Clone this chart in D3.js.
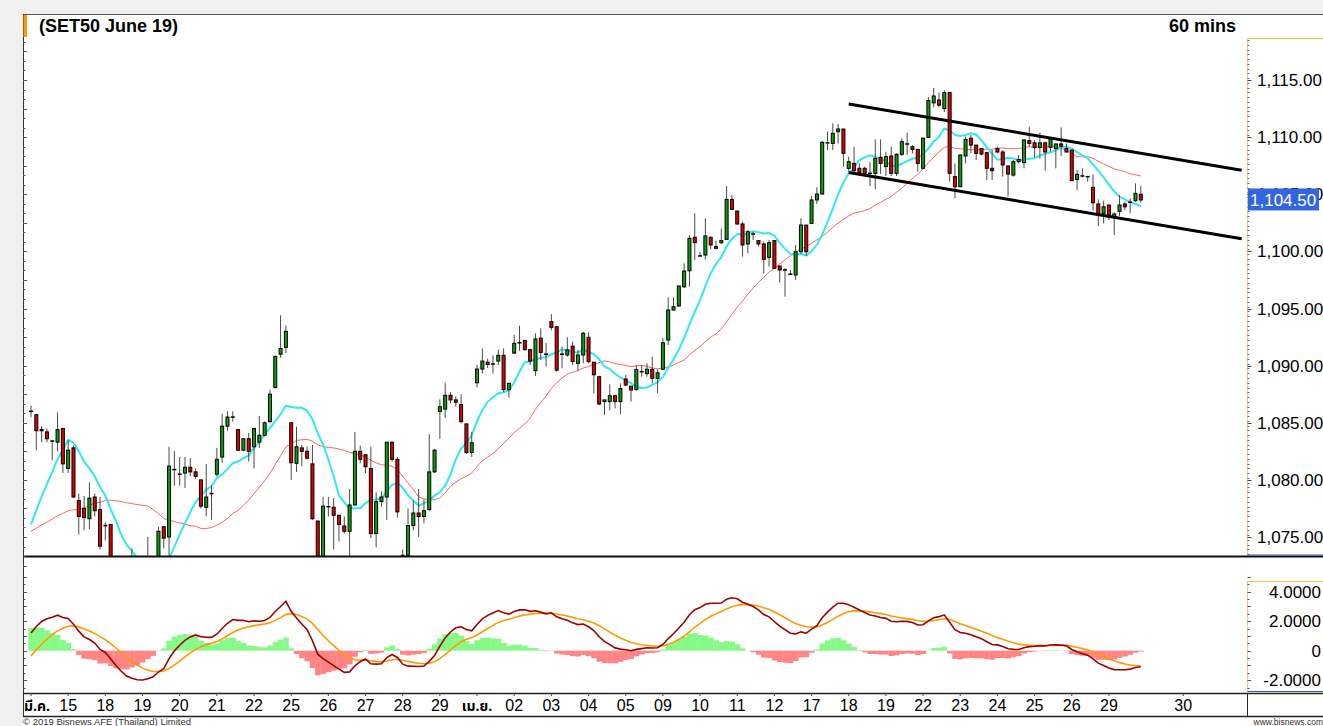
<!DOCTYPE html>
<html>
<head>
<meta charset="utf-8">
<title>SET50 June 19 - 60 mins</title>
<script src="https://cdn.jsdelivr.net/npm/d3@7"></script>
<style>
  html, body { margin: 0; padding: 0; background: #f0f0f0; }
  #chart { width: 1323px; height: 726px; }
  text { font-family: "Liberation Sans", Arial, sans-serif; }
</style>
</head>
<body>
<div id="chart"></div>
<script>
// ---- data (hourly bars, 14 Mar - 29 Apr 2019) ----
const dayLabels = ["มี.ค.", "15", "18", "19", "20", "21", "22", "25", "26", "27", "28", "29",
    "เม.ย.", "02", "03", "04", "05", "09", "10", "11", "12", "17", "18", "19", "22", "23",
    "24", "25", "26", "29", "30"];
// bar index where each day label sits
const dayLabelIndex = [0, 7, 14, 21, 28, 35, 42, 49, 56, 63, 70, 77, 84, 91, 98, 105, 112,
    119, 126, 133, 140, 147, 154, 161, 168, 175, 182, 189, 196, 203, 217];

const opens = [
    1086.0, 1085.7, 1084.4, 1084.2, 1083.4, 1083.3, 1084.5, 1081.0, 1082.8, 1078.2,
    1077.5, 1076.6, 1078.5, 1077.4, 1076.0, 1076.1, 1072.5, 1071.0, 1070.5, 1070.0,
    1071.0, 1071.0, 1071.5, 1072.5, 1073.0, 1075.9, 1075.0, 1080.9, 1080.5, 1080.6,
    1081.1, 1080.7, 1080.0, 1077.6, 1078.8, 1080.5, 1082.0, 1084.7, 1085.5, 1084.4,
    1082.6, 1083.6, 1082.9, 1083.3, 1083.9, 1085.1, 1088.1, 1091.0, 1091.6, 1085.0,
    1081.45, 1082.8, 1082.5, 1081.4, 1076.4, 1072.8, 1077.65, 1077.6, 1076.9, 1075.96,
    1075.5, 1077.8, 1082.5, 1082.2, 1081.0, 1075.3, 1078.1, 1078.5, 1083.3, 1081.8,
    1073.2, 1073.4, 1076.0, 1077.1, 1076.8, 1077.4, 1080.7, 1086.0, 1086.2, 1087.4,
    1087.0, 1086.6, 1084.9, 1082.4, 1088.5, 1089.7, 1090.3, 1090.14, 1090.4, 1090.9,
    1087.9, 1091.1, 1092.0, 1092.2, 1091.4, 1089.56, 1092.4, 1091.0, 1093.85, 1093.4,
    1091.0, 1090.93, 1091.7, 1090.2, 1090.93, 1092.48, 1090.3, 1089.03, 1086.85, 1086.85,
    1087.37, 1086.85, 1088.83, 1088.2, 1087.9, 1089.47, 1089.3, 1089.68, 1088.89, 1089.68,
    1092.24, 1094.87, 1095.22, 1096.9, 1098.3, 1101.23, 1099.6, 1099.68, 1101.23, 1100.42,
    1100.76, 1101.05, 1104.55, 1103.53, 1102.4, 1100.65, 1101.52, 1100.94, 1100.65, 1099.48,
    1100.94, 1098.72, 1098.37, 1098.0, 1097.93, 1099.97, 1102.3, 1102.45, 1104.5, 1105.02,
    1109.5, 1109.45, 1110.48, 1110.71, 1107.27, 1107.7, 1107.27, 1107.27, 1106.83, 1106.83,
    1108.23, 1107.42, 1108.35, 1106.83, 1108.5, 1109.4, 1109.16, 1108.93, 1107.27, 1109.98,
    1113.0, 1113.25, 1112.5, 1113.9, 1106.54, 1105.66, 1108.35, 1109.9, 1109.3, 1109.0,
    1108.64, 1107.27, 1109.0, 1108.7, 1107.47, 1106.68, 1107.85, 1107.77, 1109.7, 1109.5,
    1109.1, 1109.5, 1109.1, 1109.0, 1109.4, 1109.0, 1108.87, 1106.3, 1106.6, 1106.54,
    1105.6, 1104.15, 1103.33, 1104.06, 1103.0, 1103.5, 1104.15, 1104.3, 1104.44, 1105.0
];

const highs = [
    1086.5, 1085.8, 1084.7, 1084.5, 1083.5, 1085.9, 1084.5, 1083.5, 1083.0, 1078.8,
    1078.6, 1079.8, 1078.8, 1078.5, 1076.3, 1076.1, 1073.0, 1071.8, 1071.2, 1074.0,
    1072.5, 1072.8, 1075.0, 1073.2, 1075.9, 1075.9, 1082.9, 1082.5, 1082.0, 1082.0,
    1081.9, 1081.0, 1080.0, 1081.4, 1079.5, 1082.8, 1085.8, 1086.0, 1086.0, 1084.4,
    1083.6, 1084.1, 1084.5, 1085.6, 1085.1, 1087.9, 1090.9, 1094.4, 1093.5, 1085.0,
    1084.65, 1083.05, 1082.9, 1083.05, 1076.4, 1078.5, 1078.5, 1078.4, 1076.9, 1076.8,
    1079.2, 1084.2, 1083.0, 1082.2, 1082.9, 1078.9, 1079.0, 1083.3, 1083.3, 1082.0,
    1073.9, 1077.5, 1078.2, 1079.2, 1078.3, 1084.0, 1082.7, 1087.05, 1088.5, 1087.7,
    1087.3, 1087.5, 1084.9, 1084.2, 1090.05, 1091.5, 1090.6, 1090.9, 1091.4, 1091.5,
    1088.45, 1092.7, 1093.5, 1092.24, 1091.4, 1092.83, 1093.26, 1092.0, 1094.5, 1093.4,
    1091.66, 1092.48, 1092.1, 1091.37, 1092.97, 1092.92, 1090.3, 1089.03, 1087.0, 1088.36,
    1087.37, 1088.45, 1089.18, 1088.2, 1090.05, 1090.05, 1090.2, 1090.78, 1089.68, 1092.39,
    1095.98, 1095.98, 1097.0, 1098.95, 1101.43, 1103.33, 1099.97, 1102.89, 1101.35, 1100.94,
    1102.0, 1105.72, 1104.93, 1103.53, 1102.6, 1101.87, 1101.72, 1100.94, 1100.85, 1100.99,
    1100.94, 1098.72, 1098.52, 1098.37, 1100.56, 1102.89, 1102.3, 1104.85, 1105.6, 1109.69,
    1110.48, 1111.21, 1111.15, 1110.71, 1108.29, 1109.16, 1107.7, 1107.42, 1107.85, 1109.8,
    1109.8, 1108.72, 1109.16, 1108.58, 1109.9, 1110.39, 1109.3, 1108.93, 1109.98, 1113.5,
    1114.3, 1113.9, 1114.1, 1113.9, 1107.7, 1108.44, 1110.04, 1110.2, 1109.3, 1109.0,
    1108.72, 1108.87, 1109.16, 1108.87, 1107.56, 1108.0, 1108.44, 1109.8, 1110.92, 1109.75,
    1110.4, 1109.6, 1109.9, 1109.45, 1110.86, 1109.45, 1108.87, 1107.12, 1107.27, 1106.6,
    1106.74, 1104.55, 1104.44, 1104.06, 1103.4, 1104.93, 1104.35, 1104.64, 1105.95, 1105.72
];

const lows = [
    1085.5, 1082.6, 1083.3, 1083.3, 1081.7, 1082.5, 1080.6, 1080.6, 1078.4, 1075.2,
    1075.6, 1075.7, 1076.8, 1073.9, 1074.7, 1072.2, 1070.5, 1069.8, 1069.3, 1069.8,
    1070.2, 1070.5, 1071.0, 1071.8, 1072.6, 1074.0, 1073.0, 1079.5, 1079.5, 1079.3,
    1080.3, 1080.1, 1077.5, 1076.8, 1076.5, 1080.3, 1081.5, 1084.3, 1085.1, 1082.55,
    1082.5, 1081.6, 1081.0, 1082.8, 1083.8, 1085.0, 1088.0, 1090.7, 1091.1, 1080.0,
    1080.7, 1081.2, 1081.8, 1076.5, 1072.3, 1072.5, 1076.8, 1073.9, 1074.6, 1075.3,
    1073.0, 1077.8, 1081.45, 1080.6, 1074.9, 1074.1, 1077.65, 1076.5, 1081.6, 1076.7,
    1072.8, 1073.0, 1075.6, 1075.0, 1076.2, 1077.3, 1080.6, 1083.6, 1085.4, 1086.7,
    1086.4, 1084.95, 1082.27, 1082.0, 1088.1, 1089.3, 1089.8, 1089.3, 1090.05, 1087.7,
    1087.2, 1091.0, 1091.3, 1091.3, 1090.05, 1089.1, 1090.5, 1089.9, 1093.1, 1089.47,
    1089.76, 1090.78, 1090.05, 1089.56, 1090.2, 1090.2, 1087.57, 1086.55, 1085.67, 1086.1,
    1086.26, 1085.74, 1088.2, 1086.85, 1087.8, 1089.03, 1089.03, 1088.45, 1087.57, 1089.6,
    1091.8, 1094.81, 1095.16, 1096.8, 1096.91, 1099.25, 1099.54, 1099.3, 1100.18, 1100.18,
    1100.65, 1101.0, 1103.62, 1102.3, 1099.54, 1099.83, 1101.0, 1100.42, 1098.08, 1098.66,
    1098.43, 1097.26, 1096.04, 1097.93, 1097.5, 1099.77, 1099.6, 1102.4, 1104.15, 1105.0,
    1108.87, 1108.87, 1109.45, 1107.42, 1106.98, 1106.83, 1106.68, 1106.6, 1105.72, 1105.43,
    1106.77, 1106.6, 1106.6, 1106.6, 1108.35, 1108.44, 1108.58, 1106.98, 1107.2, 1109.9,
    1112.6, 1112.6, 1112.2, 1106.1, 1104.64, 1105.66, 1107.7, 1108.58, 1108.0, 1108.4,
    1106.25, 1106.25, 1108.58, 1106.54, 1104.8, 1106.54, 1107.7, 1107.27, 1109.16, 1108.23,
    1108.14, 1107.06, 1108.72, 1107.27, 1108.35, 1108.64, 1106.19, 1105.37, 1106.48, 1106.1,
    1103.56, 1102.22, 1102.45, 1102.75, 1101.43, 1103.1, 1103.62, 1103.33, 1104.35, 1104.26
];

const closes = [
    1086.0, 1084.3, 1084.3, 1083.6, 1083.4, 1084.4, 1081.4, 1082.6, 1078.5, 1076.8,
    1076.7, 1078.4, 1077.3, 1074.2, 1076.0, 1072.5, 1071.0, 1070.5, 1070.0, 1071.0,
    1071.0, 1071.5, 1072.5, 1073.0, 1075.5, 1074.9, 1081.2, 1080.9, 1080.5, 1081.1,
    1080.7, 1080.3, 1077.7, 1078.5, 1078.8, 1081.8, 1084.7, 1085.5, 1085.5, 1082.6,
    1083.6, 1082.5, 1084.5, 1083.9, 1085.0, 1087.5, 1090.8, 1091.5, 1093.0, 1081.5,
    1082.9, 1082.5, 1081.9, 1076.6, 1072.6, 1077.7, 1077.65, 1076.9, 1076.1, 1075.5,
    1077.8, 1082.5, 1081.8, 1081.15, 1075.3, 1078.1, 1078.5, 1083.3, 1081.8, 1077.2,
    1073.4, 1076.0, 1077.1, 1076.8, 1077.3, 1080.7, 1082.6, 1086.4, 1087.4, 1087.0,
    1086.8, 1085.1, 1082.4, 1083.25, 1089.7, 1090.4, 1090.1, 1090.14, 1090.9, 1087.9,
    1088.45, 1091.95, 1092.0, 1091.4, 1090.4, 1092.33, 1091.16, 1091.0, 1093.35, 1089.6,
    1091.0, 1091.37, 1090.35, 1090.93, 1092.83, 1090.35, 1089.2, 1086.64, 1087.0, 1087.37,
    1086.85, 1088.0, 1088.3, 1087.87, 1089.67, 1089.47, 1089.68, 1088.89, 1089.38, 1092.0,
    1094.87, 1095.16, 1096.97, 1098.28, 1101.14, 1100.76, 1099.6, 1101.35, 1100.56, 1100.27,
    1100.94, 1104.55, 1103.68, 1102.4, 1100.56, 1101.72, 1101.52, 1100.65, 1099.3, 1100.76,
    1098.52, 1098.37, 1098.37, 1098.0, 1099.97, 1102.3, 1099.97, 1104.5, 1105.02, 1109.54,
    1109.5, 1110.33, 1110.71, 1108.58, 1107.85, 1107.06, 1106.89, 1106.83, 1106.83, 1108.14,
    1107.7, 1108.29, 1106.83, 1108.5, 1109.6, 1109.4, 1108.93, 1107.7, 1109.9, 1113.2,
    1113.6, 1112.8, 1113.9, 1106.83, 1105.66, 1108.44, 1109.8, 1109.3, 1108.58, 1108.52,
    1107.27, 1107.06, 1108.7, 1107.56, 1106.77, 1107.85, 1108.05, 1109.75, 1109.45, 1109.1,
    1109.5, 1108.7, 1109.9, 1109.4, 1109.2, 1108.7, 1106.19, 1106.74, 1106.6, 1106.54,
    1104.26, 1103.18, 1103.9, 1103.04, 1103.27, 1104.06, 1103.9, 1104.3, 1105.08, 1104.5
];

// closes of the bars just before the visible window (only feed the moving averages / MACD)
const prevCloses = [
    1077.6, 1077.2, 1077.4, 1076.8, 1076.6, 1076.9, 1076.5, 1076.4, 1076.3,
    1073.2, 1072.8, 1072.5, 1072.3, 1072.1, 1071.9,
    1072.0, 1072.3, 1072.6, 1072.9, 1073.1, 1073.4, 1073.7,
    1081.0, 1084.0
];

// hand drawn channel: [bar index, price]
const upperTrend = [[154, 1112.9], [228, 1107.1]];
const lowerTrend = [[154, 1106.9], [228, 1101.1]];

const priceTicks = [1075, 1080, 1085, 1090, 1095, 1100, 1105, 1110, 1115];
const macdTicks = [-2, 0, 2, 4];
const macdTickLabels = ["-2.0000", "0", "2.0000", "4.0000"];

class CandleChart {
    constructor(parentElement) {
        this.parentElement = parentElement;
        this.initVis();
    }

    initVis() {
        const vis = this;

        vis.width = 1323;
        vis.height = 726;
        vis.left = 23;
        vis.axisX = 1247;
        vis.price = { top: 38, bottom: 556 };
        vis.osc = { top: 581, bottom: 692 };
        vis.strip = { top: 693, bottom: 716 };

        vis.svg = d3.select("#" + vis.parentElement)
            .append("svg")
            .attr("width", vis.width)
            .attr("height", vis.height);

        // bar index -> x
        vis.x = d3.scaleLinear().domain([0, 209]).range([31, 31 + 5.31 * 209]);
        vis.barW = vis.x(1) - vis.x(0);
        vis.y = d3.scaleLinear().domain([1075, 1115]).range([537, 80]);
        vis.yM = d3.scaleLinear().domain([-2, 4]).range([680.2, 591.7]);

        vis.wrangleData();
        vis.drawFrame();
        vis.drawPrice();
        vis.drawMacd();
        vis.drawAxes();
    }

    wrangleData() {
        const vis = this;
        const all = prevCloses.concat(closes);
        const off = prevCloses.length;

        const sma = n => closes.map((c, i) => d3.mean(all.slice(i + off - n + 1, i + off + 1)));
        const ema = (vals, n) => {
            const k = 2 / (n + 1);
            let prev = vals[0];
            return vals.map((v, i) => (prev = i === 0 ? v : prev + k * (v - prev)));
        };

        vis.bars = closes.map((c, i) => ({ i: i, o: opens[i], h: highs[i], l: lows[i], c: c }));
        vis.ma10 = sma(10);
        vis.ma25 = sma(25);

        const e12 = ema(all, 12), e26 = ema(all, 26);
        const macdAll = e12.map((v, i) => v - e26[i]);
        const sigAll = ema(macdAll, 9);
        vis.macd = macdAll.slice(off);
        vis.signal = sigAll.slice(off);
        vis.hist = vis.macd.map((m, i) => m - vis.signal[i]);
    }

    drawFrame() {
        const vis = this;
        const s = vis.svg;

        s.append("rect").attr("width", vis.width).attr("height", vis.height).attr("fill", "#f0f0f0");
        s.append("rect").attr("x", vis.left).attr("y", 14)
            .attr("width", vis.width - vis.left).attr("height", vis.height - 14).attr("fill", "#fff");

        s.append("line").attr("x1", vis.left).attr("x2", vis.width).attr("y1", 14.5).attr("y2", 14.5)
            .attr("stroke", "#555");
        s.append("line").attr("x1", vis.left + 0.5).attr("x2", vis.left + 0.5).attr("y1", 14).attr("y2", vis.strip.bottom)
            .attr("stroke", "#333");
        s.append("rect").attr("x", vis.left + 0.5).attr("y", 15).attr("width", 3.5).attr("height", 22)
            .attr("fill", "#ff9900");

        s.append("text").attr("x", 39).attr("y", 32)
            .style("font-size", "18px").style("font-weight", "bold")
            .text("(SET50 June 19)");
        s.append("text").attr("x", 1236).attr("y", 32).attr("text-anchor", "end")
            .style("font-size", "18px").style("font-weight", "bold")
            .text("60 mins");

        // clip areas
        const defs = s.append("defs");
        defs.append("clipPath").attr("id", "clipPrice").append("rect")
            .attr("x", vis.left + 1).attr("y", 15)
            .attr("width", vis.axisX - vis.left - 1).attr("height", vis.price.bottom - 15);
        defs.append("clipPath").attr("id", "clipOsc").append("rect")
            .attr("x", vis.left + 1).attr("y", vis.osc.top)
            .attr("width", vis.axisX - vis.left - 1).attr("height", vis.osc.bottom - vis.osc.top);
    }

    drawPrice() {
        const vis = this;
        const g = vis.svg.append("g").attr("clip-path", "url(#clipPrice)");

        const line = arr => d3.line().x((d, i) => vis.x(i)).y(d => vis.y(d))(arr);

        g.append("path").attr("d", line(vis.ma25))
            .attr("fill", "none").attr("stroke", "#ff6464").attr("stroke-width", 1);
        g.append("path").attr("d", line(vis.ma10))
            .attr("fill", "none").attr("stroke", "#2ee8f4").attr("stroke-width", 2);

        const candles = g.selectAll(".candle").data(vis.bars).join("g").attr("class", "candle");

        candles.append("line")
            .attr("x1", d => vis.x(d.i)).attr("x2", d => vis.x(d.i))
            .attr("y1", d => vis.y(d.h)).attr("y2", d => vis.y(d.l))
            .attr("stroke", "#4a4a4a").attr("stroke-width", 1);

        candles.filter(d => Math.abs(d.c - d.o) >= 0.08).append("rect")
            .attr("x", d => vis.x(d.i) - 1.5)
            .attr("y", d => vis.y(Math.max(d.o, d.c)))
            .attr("width", 3)
            .attr("height", d => Math.abs(vis.y(d.o) - vis.y(d.c)))
            .attr("fill", d => d.c > d.o ? "#0aa00a" : "#e00000")
            .attr("stroke", "#000").attr("stroke-width", 1);

        candles.filter(d => Math.abs(d.c - d.o) < 0.08).append("line")
            .attr("x1", d => vis.x(d.i) - 2).attr("x2", d => vis.x(d.i) + 2)
            .attr("y1", d => vis.y(d.c)).attr("y2", d => vis.y(d.c))
            .attr("stroke", "#000").attr("stroke-width", 1.5);

        [upperTrend, lowerTrend].forEach(t => {
            g.append("line")
                .attr("x1", vis.x(t[0][0])).attr("y1", vis.y(t[0][1]))
                .attr("x2", vis.x(t[1][0])).attr("y2", vis.y(t[1][1]))
                .attr("stroke", "#000").attr("stroke-width", 3);
        });
    }

    drawMacd() {
        const vis = this;
        const g = vis.svg.append("g").attr("clip-path", "url(#clipOsc)");

        g.selectAll(".hist").data(vis.hist).join("rect").attr("class", "hist")
            .attr("x", (d, i) => vis.x(i) - vis.barW / 2)
            .attr("width", vis.barW + 0.3)
            .attr("y", d => vis.yM(Math.max(0, d)))
            .attr("height", d => Math.abs(vis.yM(d) - vis.yM(0)))
            .attr("fill", d => d >= 0 ? "#86f986" : "#ff8585");

        const line = d3.line().x((d, i) => vis.x(i)).y(d => vis.yM(d));
        g.append("path").attr("d", line(vis.signal))
            .attr("fill", "none").attr("stroke", "#ff9a00").attr("stroke-width", 1.6);
        g.append("path").attr("d", line(vis.macd))
            .attr("fill", "none").attr("stroke", "#a00000").attr("stroke-width", 1.6);
    }

    drawAxes() {
        const vis = this;
        const s = vis.svg;
        const ax = vis.axisX + 0.5;

        // panel divider
        s.append("line").attr("x1", vis.left).attr("x2", vis.width)
            .attr("y1", vis.price.bottom + 0.5).attr("y2", vis.price.bottom + 0.5)
            .attr("stroke", "#111").attr("stroke-width", 2);

        // right price axis
        s.append("line").attr("x1", ax).attr("x2", ax).attr("y1", vis.price.top).attr("y2", vis.price.bottom - 1)
            .attr("stroke", "#e6cf8a");
        s.append("line").attr("x1", ax).attr("x2", vis.width).attr("y1", vis.price.top + 0.5).attr("y2", vis.price.top + 0.5)
            .attr("stroke", "#f3c640");
        s.append("line").attr("x1", ax).attr("x2", vis.width).attr("y1", vis.price.bottom - 1).attr("y2", vis.price.bottom - 1)
            .attr("stroke", "#3a58c8");

        const pMinor = d3.range(0, 110).map(k => 1073.5 + k * 5 / 12).filter(v => v < 1118.6);
        s.selectAll(".pmr").data(pMinor).join("line")
            .attr("x1", ax).attr("x2", ax + 2)
            .attr("y1", d => Math.round(vis.y(d)) + 0.5).attr("y2", d => Math.round(vis.y(d)) + 0.5)
            .attr("stroke", "#666");
        s.selectAll(".pmj").data(priceTicks).join("line")
            .attr("x1", ax).attr("x2", ax + 4)
            .attr("y1", d => Math.round(vis.y(d)) + 0.5).attr("y2", d => Math.round(vis.y(d)) + 0.5)
            .attr("stroke", "#444");
        s.selectAll(".plab").data(priceTicks).join("text")
            .attr("x", 1257).attr("y", d => vis.y(d) + 6)
            .style("font-size", "17px")
            .text(d => d3.format(",.2f")(d));

        // left ticks
        const lMinor = d3.range(0, 60).map(k => 1072.5 + k * 2.5 / 3).filter(v => v < 1118.6);
        s.selectAll(".lt").data(lMinor).join("line")
            .attr("x1", vis.left).attr("x2", (d, k) => vis.left + (k % 3 === 0 ? 4 : 2.5))
            .attr("y1", d => Math.round(vis.y(d)) + 0.5).attr("y2", d => Math.round(vis.y(d)) + 0.5)
            .attr("stroke", "#555");

        // last price marker
        const last = closes[closes.length - 1];
        s.append("rect").attr("x", vis.axisX + 1).attr("y", vis.y(last) - 11.5)
            .attr("width", 71).attr("height", 22).attr("fill", "#3265e0");
        s.append("text").attr("x", vis.axisX + 3).attr("y", vis.y(last) + 6)
            .attr("fill", "#fff").style("font-size", "17px")
            .text(d3.format(",.2f")(last));

        // oscillator axis
        s.append("line").attr("x1", ax).attr("x2", ax).attr("y1", vis.osc.top).attr("y2", vis.osc.bottom)
            .attr("stroke", "#e6cf8a");
        s.append("line").attr("x1", ax).attr("x2", vis.width).attr("y1", vis.osc.top + 0.5).attr("y2", vis.osc.top + 0.5)
            .attr("stroke", "#f3c640");
        s.append("line").attr("x1", ax).attr("x2", vis.width).attr("y1", vis.osc.bottom - 0.5).attr("y2", vis.osc.bottom - 0.5)
            .attr("stroke", "#3a58c8");
        const oMinor = d3.range(0, 16).map(k => -2.5 + k * 0.5);
        [vis.left, vis.axisX].forEach(x0 => {
            s.selectAll(null).data(oMinor).join("line")
                .attr("x1", x0 + 0.5).attr("x2", (d, k) => x0 + (k % 2 === 1 ? 4 : 2.5))
                .attr("y1", d => Math.round(vis.yM(d)) + 0.5).attr("y2", d => Math.round(vis.yM(d)) + 0.5)
                .attr("stroke", "#555");
        });
        s.selectAll(".mlab").data(macdTicks).join("text")
            .attr("x", 1321).attr("y", d => vis.yM(d) + 6).attr("text-anchor", "end")
            .style("font-size", "17px")
            .text((d, i) => macdTickLabels[i]);

        // time axis strip
        [vis.strip.top, vis.strip.bottom].forEach(yy => {
            s.append("line").attr("x1", vis.left).attr("x2", vis.width).attr("y1", yy + 0.5).attr("y2", yy + 0.5)
                .attr("stroke", "#222").attr("stroke-width", 1.3);
        });
        s.append("line").attr("x1", ax).attr("x2", ax).attr("y1", vis.strip.top).attr("y2", vis.strip.bottom)
            .attr("stroke", "#222");

        s.selectAll(".dtick").data(dayLabelIndex).join("line")
            .attr("x1", d => vis.x(d)).attr("x2", d => vis.x(d))
            .attr("y1", vis.strip.top).attr("y2", vis.strip.top + 3)
            .attr("stroke", "#444");

        const labels = s.selectAll(".dlab").data(dayLabels).join("text")
            .attr("y", 711)
            .attr("text-anchor", "middle")
            .style("font-size", d => /^\d+$/.test(d) ? "16px" : "14px")
            .style("font-weight", d => /^\d+$/.test(d) ? "normal" : "bold")
            .style("font-family", d => /^\d+$/.test(d) ? null : "Tahoma, 'Noto Sans Thai', 'Noto Sans', 'Liberation Sans', sans-serif")
            .text(d => d);
        labels.each(function (d, i) {
            const w = this.getComputedTextLength();
            const cx = Math.max(vis.x(dayLabelIndex[i]), vis.left + 1 + w / 2);
            d3.select(this).attr("x", cx);
        });

        // footer
        s.append("text").attr("x", vis.left).attr("y", 725)
            .style("font-size", "9.5px").attr("fill", "#333")
            .text("© 2019 Bisnews AFE (Thailand) Limited");
        s.append("text").attr("x", 1323).attr("y", 725).attr("text-anchor", "end")
            .style("font-size", "8.5px").attr("fill", "#333")
            .text("www.bisnews.com");
    }
}

new CandleChart("chart");
</script>
</body>
</html>
